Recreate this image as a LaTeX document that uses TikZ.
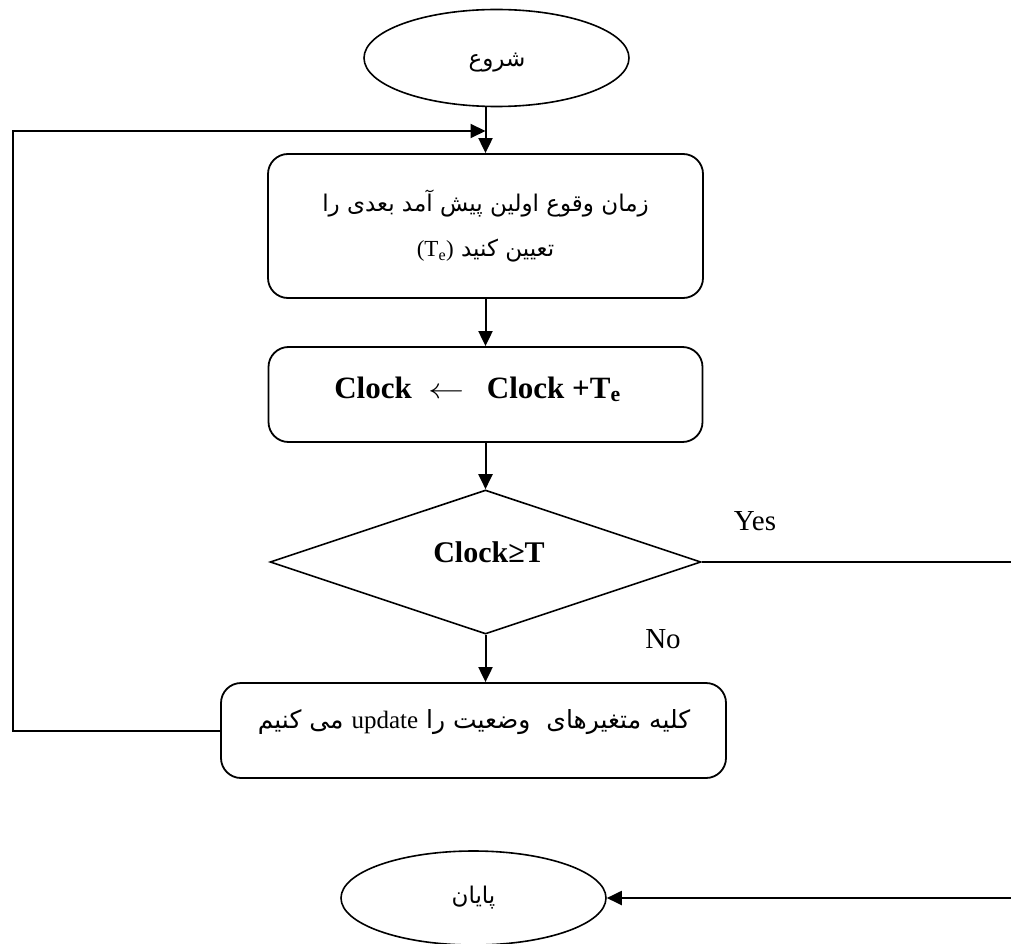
\documentclass[tikz,border=0pt]{standalone}
\usepackage{graphicx}
\usepackage{fontspec}
\setmainfont{Liberation Serif}
\newfontfamily\fa[Script=Arabic]{DejaVu Sans}
\TeXXeTstate=1
\usetikzlibrary{shapes.geometric,arrows.meta}

\begin{document}
\begin{tikzpicture}[x=1pt,y=-1pt,
  flow/.style={line width=2pt},
  arr/.style={flow,-{Triangle[length=15pt,width=14pt]}},
  proc/.style={draw,line width=1.8pt,rounded corners=20pt,inner sep=0pt},
  term/.style={draw,ellipse,line width=1.6pt,inner sep=0pt},
  decision/.style={draw,diamond,line width=1.6pt,inner sep=0pt},
  ptxt/.style={font=\fa\fontsize{23}{45}\selectfont},
  ptxtb/.style={font=\fa\fontsize{25}{45}\selectfont},
  ltxt/.style={font=\fontsize{29}{34}\selectfont},
  btxt/.style={font=\bfseries\fontsize{30}{34}\selectfont}]

\clip (0,0) rectangle (1011,944);

% shapes
\node[term,minimum width=265pt,minimum height=97pt] (start) at (496.5,58) {};
\node[ptxt] (starttxt) at (497,63) {\beginR شروع\endR};
\node[proc,minimum width=435pt,minimum height=144pt,align=center,ptxt] (box1) at (485.5,226)
  {\beginR زمان وقوع اولین پیش آمد بعدی را\endR\\
   \beginR تعیین کنید \beginL{\rmfamily(T\textsubscript{e})}\endL\endR};
\node[proc,minimum width=434pt,minimum height=95pt] (box2) at (485.5,394.5) {};
\node[btxt,anchor=base] (box2txt) at (477.5,398)
  {\fontsize{31}{34}\selectfont Clock\hspace{17pt}\scalebox{1.45}[1.15]{$\leftarrow$}\hspace{22pt}Clock +T\textsubscript{e}};
\node[decision,minimum width=431pt,minimum height=144pt] (dec) at (485.5,562) {};
\node[btxt,anchor=base] (dectxt) at (489,562) {Clock≥T};
\node[proc,minimum width=505pt,minimum height=95pt] (box3) at (473.5,730.5) {};
\node[ptxtb,anchor=base] (box3txt) at (474,728)
  {\beginR کلیه متغیرهای\ \ وضعیت را \beginL{\rmfamily update}\endL{} می کنیم\endR};
\node[term,minimum width=265pt,minimum height=94pt,ptxt] (end) at (473.5,898)
  {\beginR پایان\endR};

% branch labels
\node[ltxt] (yes) at (755,521) {Yes};
\node[ltxt] (no) at (663,639) {No};

% helper points for the loop and the exit line
\coordinate (join) at (485.5,131);
\coordinate (lft) at (13,131);
\coordinate (rgt) at (1016,0);

% connectors
\draw[arr] (start.south -| box1.north) -- (box1.north);
\draw[arr] (box1.south) -- (box2.north);
\draw[arr] (box2.south) -- (dec.north);
\draw[arr] (dec.south) -- (dec.south |- box3.north);
\draw[arr] (box3.west) -| (lft) -- (join);
\draw[arr] (dec.east) -- (dec.east -| rgt) |- (end.east);
\end{tikzpicture}
\end{document}
